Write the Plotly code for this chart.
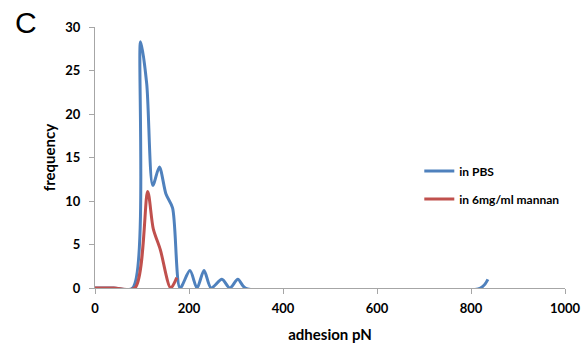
import plotly.graph_objects as go

# adhesion force (pN) and frequency
pbs_x = [0, 40, 80, 97, 110, 123, 137, 151, 165, 181, 202, 217, 232, 247, 270, 287, 304, 320, 820, 836]
pbs_y = [0, 0, 0, 28.3, 23.5, 11.8, 13.9, 10.8, 9.2, 0, 2, 0, 2, 0, 1, 0, 1, 0, 0, 1]

man_x = [0, 40, 85, 112, 124, 139, 161, 174]
man_y = [0, 0, 0, 11.1, 6.8, 4.4, 0, 1.2]

x_ticks = [0, 200, 400, 600, 800, 1000]
y_ticks = [0, 5, 10, 15, 20, 25, 30]

BLUE = "#4F81BD"
RED = "#C0504D"
FONT = "Lato"

fig = go.Figure()
fig.add_trace(go.Scatter(x=pbs_x, y=pbs_y, mode="lines", name="in PBS",
                         legendgroup="a",
                         line=dict(color=BLUE, width=3, shape="spline", smoothing=0.8)))
fig.add_trace(go.Scatter(x=man_x, y=man_y, mode="lines", name="in 6mg/ml mannan",
                         legendgroup="b",
                         line=dict(color=RED, width=3, shape="spline", smoothing=0.8)))

axis_common = dict(showgrid=False, zeroline=False, showline=True,
                   linecolor="#A6A6A6", linewidth=1, ticks="outside",
                   ticklen=5, tickcolor="#A6A6A6", automargin=False,
                   tickfont=dict(family=FONT, size=13, color="black", weight="bold"))

fig.update_layout(
    width=585, height=346,
    margin=dict(l=95, r=20, t=27, b=58),
    plot_bgcolor="white", paper_bgcolor="white",
    font=dict(family=FONT, color="black"),
    xaxis=dict(range=[0, 1000], tickvals=x_ticks, ticklabelstandoff=3,
               title=dict(text="adhesion pN", font=dict(family=FONT, size=15, weight="bold"), standoff=14),
               **axis_common),
    yaxis=dict(range=[0, 30], tickvals=y_ticks, ticklabelstandoff=6,
               title=dict(text="frequency", font=dict(family=FONT, size=15, weight="bold"), standoff=6),
               **axis_common),
    legend=dict(x=0.69, y=0.395, xanchor="left", yanchor="middle",
                font=dict(family=FONT, size=12, weight="bold"),
                tracegroupgap=9, bgcolor="rgba(0,0,0,0)", itemwidth=30),
    annotations=[dict(text="C", x=-82/470, y=1 + 23/261, xref="paper", yref="paper",
                      showarrow=False, font=dict(family="Liberation Sans", size=30, color="black"),
                      xanchor="left", yanchor="top")],
)

fig.write_html("out.html")
